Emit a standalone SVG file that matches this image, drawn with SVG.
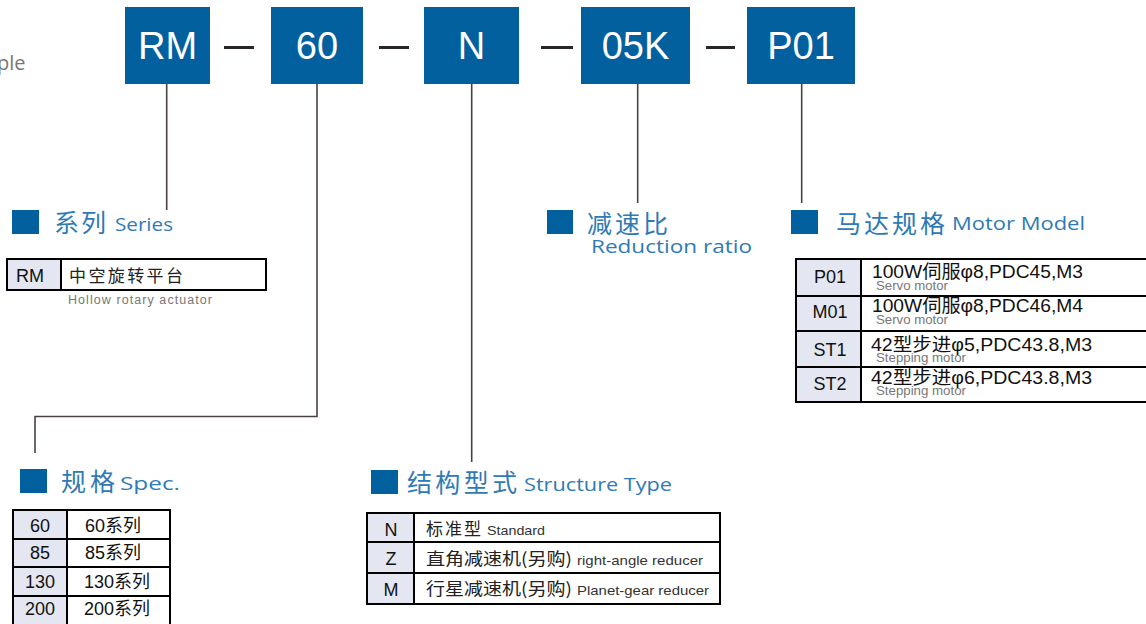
<svg xmlns="http://www.w3.org/2000/svg" width="1146" height="624" viewBox="0 0 1146 624">
<style>
.box{fill:#03609f}
.bt{font-family:"Liberation Sans",Arial,sans-serif;font-size:38px;fill:#fff;text-anchor:middle}
.dash{stroke:#2b2523;stroke-width:3}
.conn{stroke:#4a4242;stroke-width:1.6;fill:none}
.sq{fill:#03609f}
.hz{font-family:"Noto Sans CJK SC",sans-serif;font-size:25px;fill:#2f7ab5}
.he{font-family:"Open Sans","Liberation Sans",sans-serif;font-size:19px;fill:#2f7ab5}
.cell{fill:#fff;stroke:#000;stroke-width:2}
.lab{fill:#e4e7f2;stroke:#000;stroke-width:2}
.lt{font-family:"Liberation Sans",Arial,sans-serif;font-size:18px;fill:#111;text-anchor:middle}
.mt{font-family:"Liberation Sans","Noto Sans CJK SC",sans-serif;font-size:18px;fill:#111}
.ct{font-family:"Noto Sans CJK SC",sans-serif;font-size:17px;fill:#222}
.st{font-family:"Liberation Sans",Arial,sans-serif;font-size:12.5px;fill:#777}
.se{font-family:"Liberation Sans",Arial,sans-serif;font-size:13.5px;fill:#333}
</style>
<text x="-3" y="70" font-family="Open Sans, Liberation Sans, sans-serif" font-size="20" fill="#777">ple</text>

<g id="connectors">
<line class="dash" x1="224" y1="47.5" x2="254" y2="47.5"/>
<line class="dash" x1="379" y1="47.5" x2="409" y2="47.5"/>
<line class="dash" x1="541" y1="47.5" x2="573" y2="47.5"/>
<line class="dash" x1="706" y1="47.5" x2="735" y2="47.5"/>
<line class="conn" x1="166.7" y1="84" x2="166.7" y2="210"/>
<polyline class="conn" points="317,84 317,416.5 35,416.5 35,453"/>
<line class="conn" x1="471.7" y1="84" x2="471.7" y2="462"/>
<line class="conn" x1="637.7" y1="84" x2="637.7" y2="203"/>
<line class="conn" x1="801.7" y1="84" x2="801.7" y2="203"/>
</g>

<g id="box-rm"><rect class="box" x="125" y="7" width="85" height="77"/><text class="bt" x="167.5" y="58.5">RM</text></g>
<g id="box-60"><rect class="box" x="271" y="7" width="92" height="77"/><text class="bt" x="317" y="58.5">60</text></g>
<g id="box-n"><rect class="box" x="424" y="7" width="95" height="77"/><text class="bt" x="471.5" y="58.5">N</text></g>
<g id="box-05k"><rect class="box" x="581" y="7" width="109" height="77"/><text class="bt" x="635.5" y="58.5">05K</text></g>
<g id="box-p01"><rect class="box" x="747" y="7" width="108" height="77"/><text class="bt" x="801" y="58.5">P01</text></g>

<g id="series">
<rect class="sq" x="12" y="210" width="27" height="24"/>
<text class="hz" x="54" y="232" textLength="52" lengthAdjust="spacing">系列</text>
<text class="he" x="115" y="231" textLength="58" lengthAdjust="spacingAndGlyphs">Series</text>
<rect class="lab" x="7" y="259" width="54" height="31"/>
<rect class="cell" x="61" y="259" width="205" height="31"/>
<text class="lt" x="30" y="282" font-size="19">RM</text>
<text class="ct" x="69" y="282" font-size="18" textLength="114" lengthAdjust="spacing">中空旋转平台</text>
<text class="st" x="68" y="304" textLength="144" lengthAdjust="spacing">Hollow rotary actuator</text>
</g>

<g id="reduction">
<rect class="sq" x="547" y="210" width="26" height="24"/>
<text class="hz" x="587" y="233" textLength="81" lengthAdjust="spacing">减速比</text>
<text class="he" x="591" y="253" textLength="161" lengthAdjust="spacingAndGlyphs">Reduction ratio</text>
</g>

<g id="motor">
<rect class="sq" x="791" y="210" width="27" height="24"/>
<text class="hz" x="836" y="233" textLength="109" lengthAdjust="spacing">马达规格</text>
<text class="he" x="952" y="230" textLength="133" lengthAdjust="spacingAndGlyphs">Motor Model</text>
<rect class="lab" x="796" y="259" width="65" height="37"/>
<rect class="cell" x="861" y="259" width="290" height="37"/>
<rect class="lab" x="796" y="296" width="65" height="35"/>
<rect class="cell" x="861" y="296" width="290" height="35"/>
<rect class="lab" x="796" y="331" width="65" height="36"/>
<rect class="cell" x="861" y="331" width="290" height="36"/>
<rect class="lab" x="796" y="367" width="65" height="35"/>
<rect class="cell" x="861" y="367" width="290" height="35"/>
<text class="lt" x="830" y="283">P01</text>
<text class="lt" x="830" y="318">M01</text>
<text class="lt" x="830" y="356">ST1</text>
<text class="lt" x="830" y="390">ST2</text>
<text class="mt" x="872" y="278" textLength="211" lengthAdjust="spacingAndGlyphs">100W伺服φ8,PDC45,M3</text>
<text class="st" x="876" y="290" textLength="72" lengthAdjust="spacingAndGlyphs">Servo motor</text>
<text class="mt" x="872" y="312" textLength="211" lengthAdjust="spacingAndGlyphs">100W伺服φ8,PDC46,M4</text>
<text class="st" x="876" y="324" textLength="72" lengthAdjust="spacingAndGlyphs">Servo motor</text>
<text class="mt" x="871" y="351" textLength="221" lengthAdjust="spacingAndGlyphs">42型步进φ5,PDC43.8,M3</text>
<text class="st" x="876" y="362" textLength="90" lengthAdjust="spacingAndGlyphs">Stepping motor</text>
<text class="mt" x="871" y="384" textLength="221" lengthAdjust="spacingAndGlyphs">42型步进φ6,PDC43.8,M3</text>
<text class="st" x="876" y="395" textLength="90" lengthAdjust="spacingAndGlyphs">Stepping motor</text>
</g>

<g id="spec">
<rect class="sq" x="20" y="469" width="27" height="24"/>
<text class="hz" x="61" y="491" textLength="54" lengthAdjust="spacing">规格</text>
<text class="he" x="120" y="490" textLength="60" lengthAdjust="spacingAndGlyphs">Spec.</text>
<rect class="lab" x="13" y="510" width="54" height="29"/>
<rect class="cell" x="67" y="510" width="103" height="29"/>
<rect class="lab" x="13" y="539" width="54" height="28"/>
<rect class="cell" x="67" y="539" width="103" height="28"/>
<rect class="lab" x="13" y="567" width="54" height="29"/>
<rect class="cell" x="67" y="567" width="103" height="29"/>
<rect class="lab" x="13" y="596" width="54" height="30"/>
<rect class="cell" x="67" y="596" width="103" height="30"/>
<text class="lt" x="40" y="532" font-size="17">60</text>
<text class="lt" x="40" y="559" font-size="17">85</text>
<text class="lt" x="40" y="588" font-size="17">130</text>
<text class="lt" x="40" y="615" font-size="17">200</text>
<text class="mt" x="85" y="532" font-size="17" textLength="56" lengthAdjust="spacingAndGlyphs">60系列</text>
<text class="mt" x="85" y="559" font-size="17" textLength="56" lengthAdjust="spacingAndGlyphs">85系列</text>
<text class="mt" x="84" y="588" font-size="17" textLength="66" lengthAdjust="spacingAndGlyphs">130系列</text>
<text class="mt" x="84" y="615" font-size="17" textLength="66" lengthAdjust="spacingAndGlyphs">200系列</text>
</g>

<g id="structure">
<rect class="sq" x="371" y="470" width="27" height="24"/>
<text class="hz" x="407" y="492" textLength="110" lengthAdjust="spacing">结构型式</text>
<text class="he" x="524" y="491" textLength="148" lengthAdjust="spacingAndGlyphs">Structure Type</text>
<rect class="lab" x="367" y="513" width="47" height="29"/>
<rect class="cell" x="414" y="513" width="306" height="29"/>
<rect class="lab" x="367" y="542" width="47" height="31"/>
<rect class="cell" x="414" y="542" width="306" height="31"/>
<rect class="lab" x="367" y="573" width="47" height="31"/>
<rect class="cell" x="414" y="573" width="306" height="31"/>
<text class="lt" x="391" y="536">N</text>
<text class="lt" x="391" y="565">Z</text>
<text class="lt" x="391" y="596">M</text>
<text class="ct" x="426" y="535" textLength="55" lengthAdjust="spacing">标准型</text>
<text class="se" x="487" y="535" textLength="58" lengthAdjust="spacingAndGlyphs">Standard</text>
<text class="ct" x="426" y="565" textLength="146" lengthAdjust="spacingAndGlyphs">直角减速机(另购)</text>
<text class="se" x="577" y="565" textLength="126" lengthAdjust="spacingAndGlyphs">right-angle reducer</text>
<text class="ct" x="426" y="595" textLength="146" lengthAdjust="spacingAndGlyphs">行星减速机(另购)</text>
<text class="se" x="577" y="595" textLength="132" lengthAdjust="spacingAndGlyphs">Planet-gear reducer</text>
</g>
</svg>
